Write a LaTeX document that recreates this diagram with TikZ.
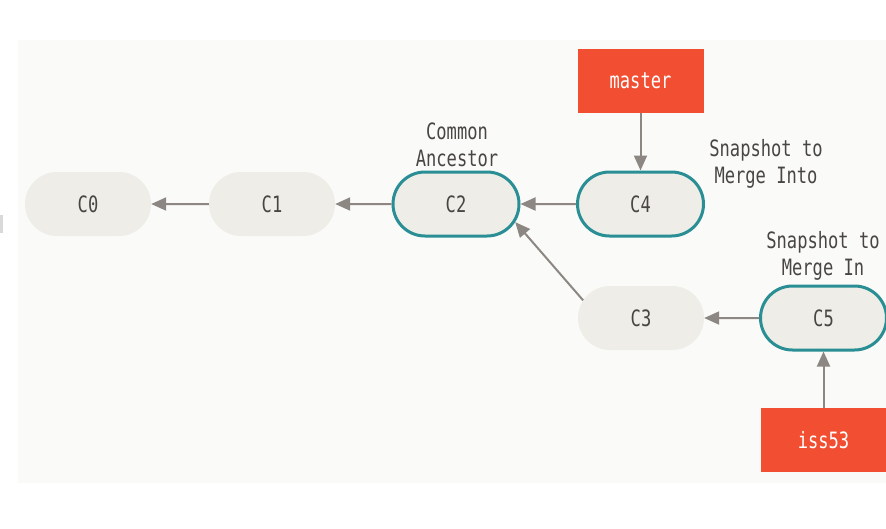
\documentclass[tikz,border=0pt]{standalone}
\usepackage{fontspec}
\newfontfamily\gitfont[FakeStretch=0.76]{DejaVu Sans Mono}
\usetikzlibrary{arrows.meta}
\usetikzlibrary{shapes.misc}
\definecolor{bg1}{RGB}{250, 250, 248}
\definecolor{node1}{RGB}{238, 237, 232}
\definecolor{teal1}{RGB}{42, 142, 149}
\definecolor{red1}{RGB}{241, 78, 50}
\definecolor{gray1}{RGB}{140, 135, 131}
\definecolor{text1}{RGB}{72, 69, 66}

\begin{document}
\begin{tikzpicture}[x=1pt, y=-1pt, font=\gitfont\fontsize{22.5}{27}\selectfont, text=text1,
  commit/.style={rounded rectangle, fill=node1, minimum width=126pt, minimum height=64pt, inner sep=0pt},
  snap/.style={commit, draw=teal1, line width=3pt},
  branch/.style={fill=red1, text=white, minimum width=126pt, minimum height=64pt, inner sep=0pt},
  link/.style={draw=gray1, line width=2pt, -{Triangle[length=15pt,width=13pt]}}]
  \useasboundingbox (0,0) rectangle (886,528);
  \fill[bg1] (18,40) rectangle (886,483);
  \fill[gray!30] (0,215) rectangle (3,233);

  \node[commit] (C0) at (88,204) {C0};
  \node[commit] (C1) at (272,204) {C1};
  \node[snap] (C2) at (456,204) {C2};
  \node[snap] (C4) at (640.5,204) {C4};
  \node[commit] (C3) at (641,318) {C3};
  \node[snap] (C5) at (823.5,318) {C5};

  \node[branch] (master) at (640.5,81) {master};
  \node[branch] (iss53) at (823.5,440) {iss53};

  \node[align=center] (ancestor) at (457,145) {Common\\Ancestor};
  \node[align=center] (into) at (766,164) {Snapshot to\\Merge Into};
  \node[align=center] (in) at (823,256) {Snapshot to\\Merge In};

  \foreach \from/\to in {C1/C0, C2/C1, C4/C2, C5/C3, master/C4, iss53/C5}
   \draw[link] (\from) -- (\to);
  \draw[link] (C3.163) -- (C2.-17);
\end{tikzpicture}
\end{document}
